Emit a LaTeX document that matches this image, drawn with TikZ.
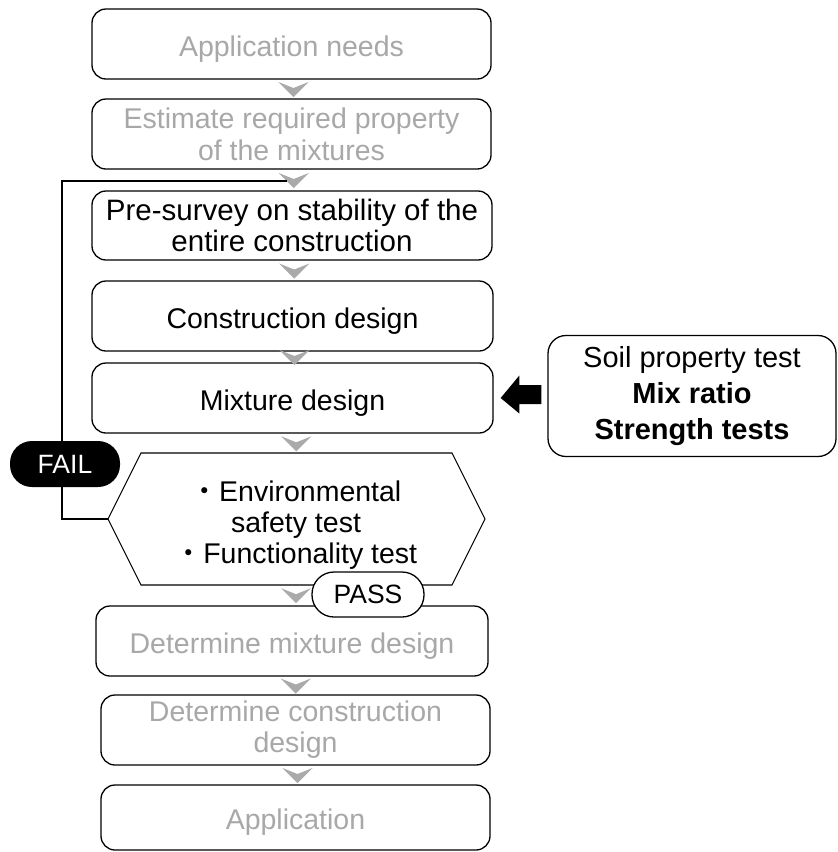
\documentclass[tikz,border=0pt]{standalone}
\usepackage{fontspec}
\setmainfont{Liberation Sans}
\newfontfamily\cjkfont{Noto Sans CJK JP}
\usetikzlibrary{calc}
\definecolor{faded}{RGB}{168,168,168}
\definecolor{chevgray}{RGB}{170,170,170}

\tikzset{
  stepbox/.style={draw=black, line width=1.3pt, rounded corners=14pt, align=center,
    font=\fontsize{28.5}{32}\selectfont, inner sep=0pt, minimum height=70pt, fill=white},
  fadedbox/.style={stepbox, text=faded},
  oneline/.style={text height=30pt, text depth=5.6pt},
  pill/.style={rounded corners=22pt, inner sep=0pt, font=\fontsize{26.5}{30}\selectfont},
  flowline/.style={draw=black, line width=1.3pt},
  chev/.pic={\fill[chevgray] (-13,-7) -- (2,-1) -- (17,-7) -- (2,8) -- cycle;}
}

\begin{document}
\begin{tikzpicture}[x=1pt,y=-1pt]
\useasboundingbox (0,0) rectangle (838,852);

% main chain of steps
\node[fadedbox, oneline, minimum width=399pt] (b1) at (291.5,44) {Application needs};
\node[fadedbox, minimum width=399pt] (b2) at (291.5,134) {Estimate required property\\of the mixtures};
\node[stepbox, minimum width=400pt, minimum height=69pt, font=\fontsize{29.5}{31.5}\selectfont] (b3) at (292,225.5) {Pre-survey on stability of the\\entire construction};
\node[stepbox, oneline, minimum width=401pt] (b4) at (292.5,316) {Construction design};
\node[stepbox, oneline, minimum width=401pt] (b5) at (292.5,398) {Mixture design};

% test hexagon
\coordinate (hexW) at (108,519);
\coordinate (hexN) at (296,453);
\coordinate (hexS) at (296,585);
\draw[flowline, line width=1.1pt] (hexW) -- (141,453) -- (452,453) -- (485,519) -- (452,585) -- (141,585) -- cycle;
\node[align=center, font=\fontsize{28.5}{31}\selectfont] (hex) at (296,525)
  {{\cjkfont ・}Environmental\\safety test\\{\cjkfont ・}Functionality test};

\node[fadedbox, oneline, minimum width=392pt] (b6) at (292,641) {Determine mixture design};
\node[fadedbox, minimum width=389pt, font=\fontsize{28.5}{31}\selectfont] (b7) at (295.5,730) {Determine construction\\design};
\node[fadedbox, oneline, minimum width=389pt, minimum height=65pt] (b8) at (295.5,817.5) {Application};

% chevrons between consecutive steps
\pic at ($(b1.south)!0.5!(b2.north)$) {chev};
\pic at ($(b2.south)!0.5!(b3.north)$) {chev};
\pic at ($(b3.south)!0.5!(b4.north)$) {chev};
\pic at ($(b4.south)!0.5!(b5.north)$) {chev};
\pic at ($(b5.south)!0.5!(hexN)$) {chev};
\pic at ($(hexS)!0.5!(b6.north)$) {chev};
\pic at ($(b6.south)!0.5!(b7.north)$) {chev};
\pic at ($(b7.south)!0.5!(b8.north)$) {chev};

% feedback loop on failure
\coordinate (fbEnd) at (287,181);
\draw[flowline] (hexW) -- (62,519) -- (62,181) -- (fbEnd);
\node[pill, fill=black, text=white, minimum width=110pt, minimum height=46pt] (fail) at (65,464) {FAIL};

% pass label
\node[pill, draw=black, line width=1.3pt, fill=white, minimum width=112pt, minimum height=45pt] (pass) at (368,594.5) {PASS};

% input box with laboratory tests
\node[stepbox, rounded corners=18pt, minimum width=288pt, minimum height=121pt,
  font=\fontsize{29}{36}\selectfont] (side) at (692,396)
  {Soil property test\\\textbf{Mix ratio}\\\textbf{Strength tests}};
\fill[black] ($(side.west)+(-6,-11)$) -- ++(-22,0) -- ++(0,-9.5) -- ($(b5.east)+(7,0)$)
  -- ($(side.west)+(-28,17.5)$) -- ++(0,-9.5) -- ($(side.west)+(-6,8)$) -- cycle;
\end{tikzpicture}
\end{document}
